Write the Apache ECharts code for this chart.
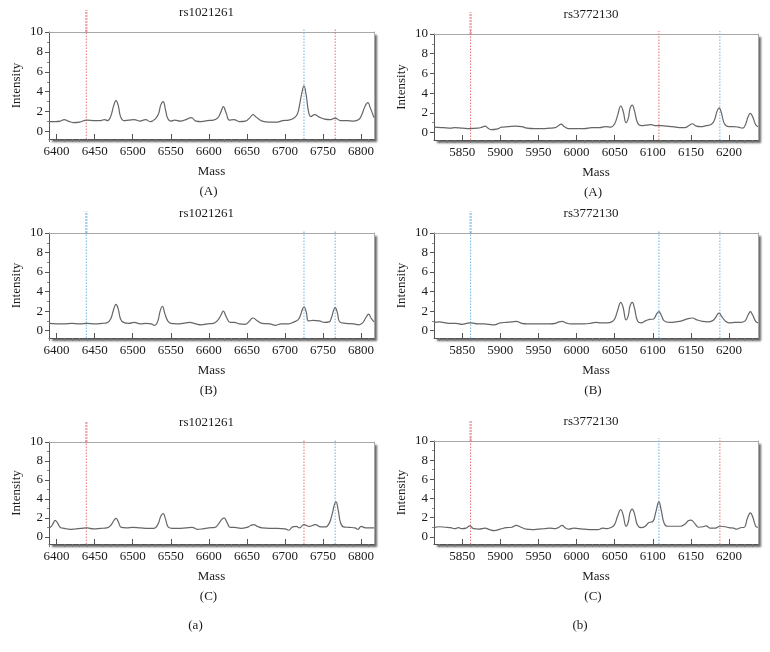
<!DOCTYPE html>
<html><head><meta charset="utf-8">
<script src="https://cdn.jsdelivr.net/npm/echarts@6/dist/echarts.min.js"></script>
<style>html,body{margin:0;padding:0;background:#fff}#c{width:770px;height:652px}</style>
</head><body><div id="c"></div>
<script>
// ---------- data ----------
const snpLeft = 'rs1021261';
const snpRight = 'rs3772130';
const massTicksLeft = [6400, 6450, 6500, 6550, 6600, 6650, 6700, 6750, 6800];
const massTicksRight = [5850, 5900, 5950, 6000, 6050, 6100, 6150, 6200];
const intensityTicks = [0, 2, 4, 6, 8, 10];
const massRangeLeft = [6390, 6817];
const massRangeRight = [5813, 6238];
const intensityRange = [-0.75, 10];
const rowLabels = ['(A)', '(B)', '(C)'];
const colLabels = ['(a)', '(b)'];

const spec_a_A = [[6390,1.0],[6398,1.0],[6405,1.05],[6410,1.2],[6415,1.05],[6422,0.9],[6430,0.95],[6440,1.15],[6450,1.1],[6458,1.1],[6463,1.2],[6467,1.1],[6471,1.5],[6475,2.6],[6478,3.1],[6481,2.6],[6484,1.5],[6488,1.1],[6495,1.15],[6502,1.2],[6509,1.05],[6517,1.2],[6523,1.0],[6530,1.3],[6534,1.8],[6537,2.7],[6540,3.0],[6543,2.2],[6546,1.3],[6550,1.05],[6555,1.15],[6563,1.05],[6570,1.2],[6577,1.4],[6583,1.05],[6590,1.0],[6598,1.1],[6606,1.15],[6612,1.4],[6616,2.0],[6619,2.5],[6623,1.8],[6627,1.15],[6633,1.2],[6640,1.0],[6648,1.05],[6654,1.4],[6658,1.7],[6663,1.4],[6670,1.05],[6680,0.95],[6690,0.95],[6697,1.1],[6705,1.15],[6711,1.3],[6716,1.7],[6719,2.6],[6722,3.8],[6725,4.6],[6728,3.6],[6731,2.0],[6734,1.5],[6739,1.7],[6745,1.45],[6752,1.25],[6760,1.2],[6766,1.35],[6773,1.1],[6782,1.1],[6790,1.05],[6797,1.2],[6801,1.7],[6805,2.5],[6809,2.9],[6812,2.4],[6817,1.4]];
const spec_a_B = [[6390,0.75],[6400,0.7],[6410,0.7],[6420,0.75],[6430,0.7],[6440,0.75],[6450,0.7],[6460,0.75],[6466,0.8],[6471,1.2],[6475,2.2],[6478,2.7],[6481,2.2],[6484,1.2],[6488,0.85],[6495,0.75],[6502,0.85],[6510,0.7],[6518,0.75],[6524,0.7],[6529,0.55],[6533,1.0],[6536,2.0],[6539,2.5],[6542,1.8],[6546,1.0],[6550,0.75],[6558,0.7],[6566,0.75],[6575,0.85],[6583,0.7],[6590,0.6],[6598,0.7],[6606,0.75],[6612,1.1],[6616,1.6],[6619,2.0],[6623,1.4],[6628,0.85],[6633,0.85],[6640,0.7],[6648,0.65],[6654,1.05],[6658,1.3],[6663,1.05],[6670,0.75],[6680,0.7],[6688,0.55],[6695,0.7],[6705,0.7],[6712,0.9],[6717,1.1],[6720,1.5],[6723,2.2],[6725,2.45],[6728,1.9],[6731,1.0],[6737,1.05],[6745,1.0],[6752,0.85],[6758,0.9],[6761,1.3],[6764,2.1],[6766,2.35],[6769,1.8],[6772,0.9],[6780,0.75],[6790,0.7],[6797,0.6],[6802,0.8],[6806,1.3],[6810,1.7],[6813,1.3],[6817,0.9]];
const spec_a_C = [[6390,0.95],[6393,1.1],[6396,1.5],[6398,1.75],[6401,1.5],[6405,1.0],[6410,0.9],[6418,0.8],[6425,0.85],[6432,0.9],[6440,0.95],[6448,0.85],[6458,0.9],[6466,0.95],[6471,1.2],[6475,1.7],[6478,1.95],[6481,1.6],[6485,1.0],[6492,0.95],[6500,1.0],[6510,0.95],[6520,0.9],[6528,0.9],[6533,1.3],[6537,2.2],[6540,2.45],[6543,1.9],[6547,1.0],[6552,0.9],[6560,0.9],[6570,0.95],[6578,1.0],[6585,0.8],[6592,0.85],[6600,0.95],[6608,1.0],[6613,1.4],[6617,1.85],[6620,2.0],[6624,1.5],[6628,1.0],[6634,1.0],[6642,0.9],[6650,1.0],[6655,1.2],[6659,1.3],[6664,1.1],[6670,0.95],[6680,0.9],[6690,0.9],[6700,0.85],[6705,0.7],[6710,1.05],[6715,1.1],[6719,0.95],[6725,1.3],[6732,1.1],[6740,1.3],[6747,1.05],[6753,1.05],[6758,1.4],[6762,2.4],[6765,3.4],[6767,3.7],[6770,2.8],[6773,1.5],[6777,1.05],[6785,1.0],[6792,0.95],[6796,0.8],[6800,1.1],[6806,0.95],[6817,0.95]];
const spec_b_A = [[5813,0.55],[5825,0.5],[5835,0.45],[5840,0.5],[5850,0.45],[5860,0.4],[5870,0.45],[5876,0.55],[5880,0.65],[5884,0.45],[5888,0.3],[5895,0.35],[5902,0.55],[5910,0.6],[5920,0.65],[5928,0.6],[5935,0.45],[5945,0.4],[5955,0.4],[5965,0.45],[5972,0.5],[5977,0.75],[5980,0.85],[5984,0.6],[5990,0.4],[6000,0.4],[6010,0.4],[6020,0.5],[6030,0.5],[6038,0.6],[6045,0.55],[6050,0.9],[6054,1.8],[6058,2.7],[6061,2.2],[6065,1.0],[6068,1.5],[6070,2.4],[6073,2.8],[6076,2.2],[6080,1.0],[6085,0.7],[6092,0.75],[6098,0.8],[6104,0.7],[6110,0.7],[6118,0.65],[6126,0.6],[6135,0.5],[6142,0.5],[6148,0.75],[6152,0.9],[6157,0.65],[6163,0.6],[6170,0.7],[6177,0.85],[6181,1.3],[6184,2.1],[6187,2.5],[6190,2.0],[6194,0.9],[6200,0.6],[6206,0.6],[6212,0.55],[6218,0.45],[6222,0.9],[6225,1.6],[6228,1.95],[6231,1.6],[6235,0.8],[6238,0.6]];
const spec_b_B = [[5813,0.85],[5820,0.9],[5828,0.8],[5835,0.75],[5842,0.75],[5850,0.65],[5856,0.75],[5862,0.8],[5870,0.7],[5878,0.7],[5885,0.65],[5892,0.6],[5900,0.8],[5908,0.85],[5915,0.9],[5921,0.95],[5928,0.75],[5935,0.7],[5945,0.7],[5955,0.7],[5965,0.7],[5972,0.75],[5977,0.9],[5981,0.95],[5986,0.8],[5992,0.7],[6000,0.7],[6010,0.7],[6018,0.75],[6025,0.85],[6032,0.8],[6040,0.8],[6046,0.9],[6050,1.2],[6054,2.1],[6058,2.9],[6061,2.4],[6065,1.1],[6068,1.6],[6070,2.5],[6073,2.9],[6076,2.3],[6080,1.0],[6085,0.8],[6090,1.0],[6096,1.15],[6101,1.2],[6105,1.7],[6108,1.95],[6111,1.6],[6115,1.0],[6122,0.85],[6130,0.9],[6138,1.0],[6145,1.2],[6152,1.3],[6158,1.1],[6165,0.95],[6172,0.9],[6178,1.0],[6182,1.3],[6185,1.7],[6187,1.8],[6190,1.5],[6195,1.0],[6200,0.8],[6208,0.85],[6215,0.85],[6221,1.0],[6225,1.6],[6228,1.95],[6231,1.6],[6235,0.95],[6238,0.8]];
const spec_b_C = [[5813,0.95],[5820,1.05],[5828,1.0],[5835,0.95],[5840,0.85],[5845,0.95],[5850,0.85],[5855,0.9],[5860,1.15],[5865,0.85],[5872,0.8],[5880,0.9],[5886,0.75],[5892,0.65],[5900,0.8],[5908,0.95],[5915,1.0],[5921,1.2],[5927,1.0],[5934,0.8],[5942,0.75],[5950,0.8],[5958,0.85],[5965,0.9],[5972,0.85],[5977,1.0],[5981,1.2],[5985,0.95],[5990,0.8],[5996,0.9],[6003,0.85],[6010,0.8],[6020,0.75],[6028,0.75],[6034,0.9],[6040,0.85],[6046,1.0],[6050,1.3],[6054,2.2],[6058,2.85],[6061,2.3],[6065,1.1],[6068,1.6],[6070,2.5],[6073,2.9],[6076,2.4],[6080,1.2],[6085,0.95],[6090,1.1],[6095,1.5],[6100,1.6],[6104,2.6],[6108,3.65],[6111,2.8],[6115,1.4],[6120,1.1],[6128,1.1],[6136,1.1],[6142,1.3],[6147,1.7],[6150,1.75],[6155,1.4],[6160,1.0],[6166,1.05],[6170,1.15],[6175,0.9],[6182,0.9],[6188,1.1],[6195,1.05],[6200,0.95],[6206,0.9],[6210,0.8],[6215,0.95],[6220,1.0],[6224,1.9],[6228,2.5],[6231,2.1],[6235,1.1],[6238,1.0]];

// allele marker masses; 'u' = red marker, 'p' = blue marker
const markers_a_A = [[6439,'u'],[6725,'p'],[6766,'u']];
const markers_a_B = [[6439,'p'],[6725,'p'],[6766,'p']];
const markers_a_C = [[6439,'u'],[6725,'u'],[6766,'p']];
const markers_b_A = [[5861,'u'],[6108,'u'],[6188,'p']];
const markers_b_B = [[5861,'p'],[6108,'p'],[6188,'p']];
const markers_b_C = [[5861,'u'],[6108,'p'],[6188,'u']];

// ---------- layout ----------
const FONT = 'Liberation Serif';
const panels = [
  {col:0,row:0,spec:spec_a_A,mk:markers_a_A,grid:{left:49,top:32,width:325,height:107}},
  {col:1,row:0,spec:spec_b_A,mk:markers_b_A,grid:{left:434,top:34,width:324,height:106}},
  {col:0,row:1,spec:spec_a_B,mk:markers_a_B,grid:{left:49,top:233,width:325,height:105}},
  {col:1,row:1,spec:spec_b_B,mk:markers_b_B,grid:{left:434,top:233,width:324,height:105}},
  {col:0,row:2,spec:spec_a_C,mk:markers_a_C,grid:{left:49,top:442,width:325,height:102}},
  {col:1,row:2,spec:spec_b_C,mk:markers_b_C,grid:{left:434,top:441,width:324,height:103}},
];
const markerColor = {u:'#e8706f', p:'#6cb4e4'};
const plain = v => String(v);
const BORDER = '#a8a8a8';

const grids=[], xAxes=[], yAxes=[], series=[], graphics=[];
panels.forEach((p,i)=>{
  const range = p.col===0 ? massRangeLeft : massRangeRight;
  const ticks = p.col===0 ? massTicksLeft : massTicksRight;
  const minor = [];
  for (let v = Math.ceil(range[0]/10)*10; v <= range[1]; v += 10) if (v%50!==0) minor.push(v);
  const yMinor = [1,3,5,7,9];
  grids.push(Object.assign({show:true, backgroundColor:'#fff', borderWidth:0,
    shadowColor:'rgba(0,0,0,0.6)', shadowBlur:2, shadowOffsetX:3, shadowOffsetY:3, containLabel:false}, p.grid));
  // x: major (bottom), minor ticks (moved onto bottom edge), top border line
  xAxes.push({type:'value', gridIndex:i, position:'bottom', offset:0, min:range[0], max:range[1],
    axisLine:{show:true, onZero:false, lineStyle:{color:'#555', width:1}},
    axisTick:{show:true, inside:true, length:5, customValues:ticks, lineStyle:{color:'#555'}},
    axisLabel:{show:true, customValues:ticks, formatter:plain, margin:6, fontFamily:FONT, fontSize:13, color:'#1a1a1a'},
    splitLine:{show:false},
    name:'Mass', nameLocation:'middle', nameGap:26, nameTextStyle:{fontFamily:FONT, fontSize:13, color:'#1a1a1a'}});
  xAxes.push({type:'value', gridIndex:i, position:'top', offset:-p.grid.height, min:range[0], max:range[1],
    axisLine:{show:false, onZero:false},
    axisTick:{show:true, inside:true, length:3, customValues:minor, lineStyle:{color:'#777'}},
    axisLabel:{show:false}, splitLine:{show:false}});
  xAxes.push({type:'value', gridIndex:i, position:'top', offset:0, min:range[0], max:range[1],
    axisLine:{show:true, onZero:false, lineStyle:{color:BORDER, width:1}},
    axisTick:{show:false}, axisLabel:{show:false}, splitLine:{show:false}});
  // y: major (left), minor ticks (moved onto left edge), right border line
  yAxes.push({type:'value', gridIndex:i, position:'left', offset:0, min:intensityRange[0], max:intensityRange[1],
    axisLine:{show:true, onZero:false, lineStyle:{color:'#555', width:1}},
    axisTick:{show:true, inside:false, length:4, customValues:intensityTicks, lineStyle:{color:'#555'}},
    axisLabel:{show:true, customValues:intensityTicks, formatter:plain, margin:6, fontFamily:FONT, fontSize:13, color:'#1a1a1a'},
    splitLine:{show:false},
    name:'Intensity', nameLocation:'middle', nameGap:26, nameRotate:90,
    nameTextStyle:{fontFamily:FONT, fontSize:13, color:'#1a1a1a'}});
  yAxes.push({type:'value', gridIndex:i, position:'right', offset:-p.grid.width, min:intensityRange[0], max:intensityRange[1],
    axisLine:{show:false, onZero:false},
    axisTick:{show:true, inside:true, length:2, customValues:yMinor, lineStyle:{color:'#888'}},
    axisLabel:{show:false}, splitLine:{show:false}});
  yAxes.push({type:'value', gridIndex:i, position:'right', offset:0, min:intensityRange[0], max:intensityRange[1],
    axisLine:{show:true, onZero:false, lineStyle:{color:BORDER, width:1}},
    axisTick:{show:false}, axisLabel:{show:false}, splitLine:{show:false}});
  const xi = 3*i, yi = 3*i;
  // marker lines
  p.mk.forEach((m,k)=>{
    const col = markerColor[m[1]];
    series.push({type:'line', xAxisIndex:xi, yAxisIndex:yi, clip:false, silent:true, symbol:'none', z:1,
      data:[[m[0], intensityRange[0]],[m[0], 10.3]],
      lineStyle:{color:col, width:1, type:[1.5,1.5]}});
    if (k===0) {
      series.push({type:'line', xAxisIndex:xi, yAxisIndex:yi, clip:false, silent:true, symbol:'none', z:1,
        data:[[m[0], 10],[m[0], 12.2]],
        lineStyle:{color:col, width:2.5, type:[2,1], opacity:0.6}});
    }
  });
  series.push({type:'line', xAxisIndex:xi, yAxisIndex:yi, data:p.spec, symbol:'none', smooth:0.45,
    z:3, lineStyle:{color:'#666', width:1.2}});
  // texts
  const cx = p.grid.left + p.grid.width/2;
  graphics.push({type:'text', x:cx-5, y:p.grid.top-19, style:{text: p.col===0?snpLeft:snpRight,
    font:'13px "'+FONT+'"', fill:'#1a1a1a', textAlign:'center', textVerticalAlign:'middle'}});
  graphics.push({type:'text', x:cx-3, y:p.grid.top+p.grid.height+53, style:{text: rowLabels[p.row],
    font:'13px "'+FONT+'"', fill:'#1a1a1a', textAlign:'center', textVerticalAlign:'middle'}});
  if (p.row===2) {
    graphics.push({type:'text', x:cx-16, y:p.grid.top+p.grid.height+82, style:{text: colLabels[p.col],
      font:'13px "'+FONT+'"', fill:'#1a1a1a', textAlign:'center', textVerticalAlign:'middle'}});
  }
});

const chart = echarts.init(document.getElementById('c'), null, {renderer:'canvas'});
chart.setOption({animation:false, backgroundColor:'#fff', grid:grids, xAxis:xAxes, yAxis:yAxes, series:series, graphic:graphics});
</script></body></html>
